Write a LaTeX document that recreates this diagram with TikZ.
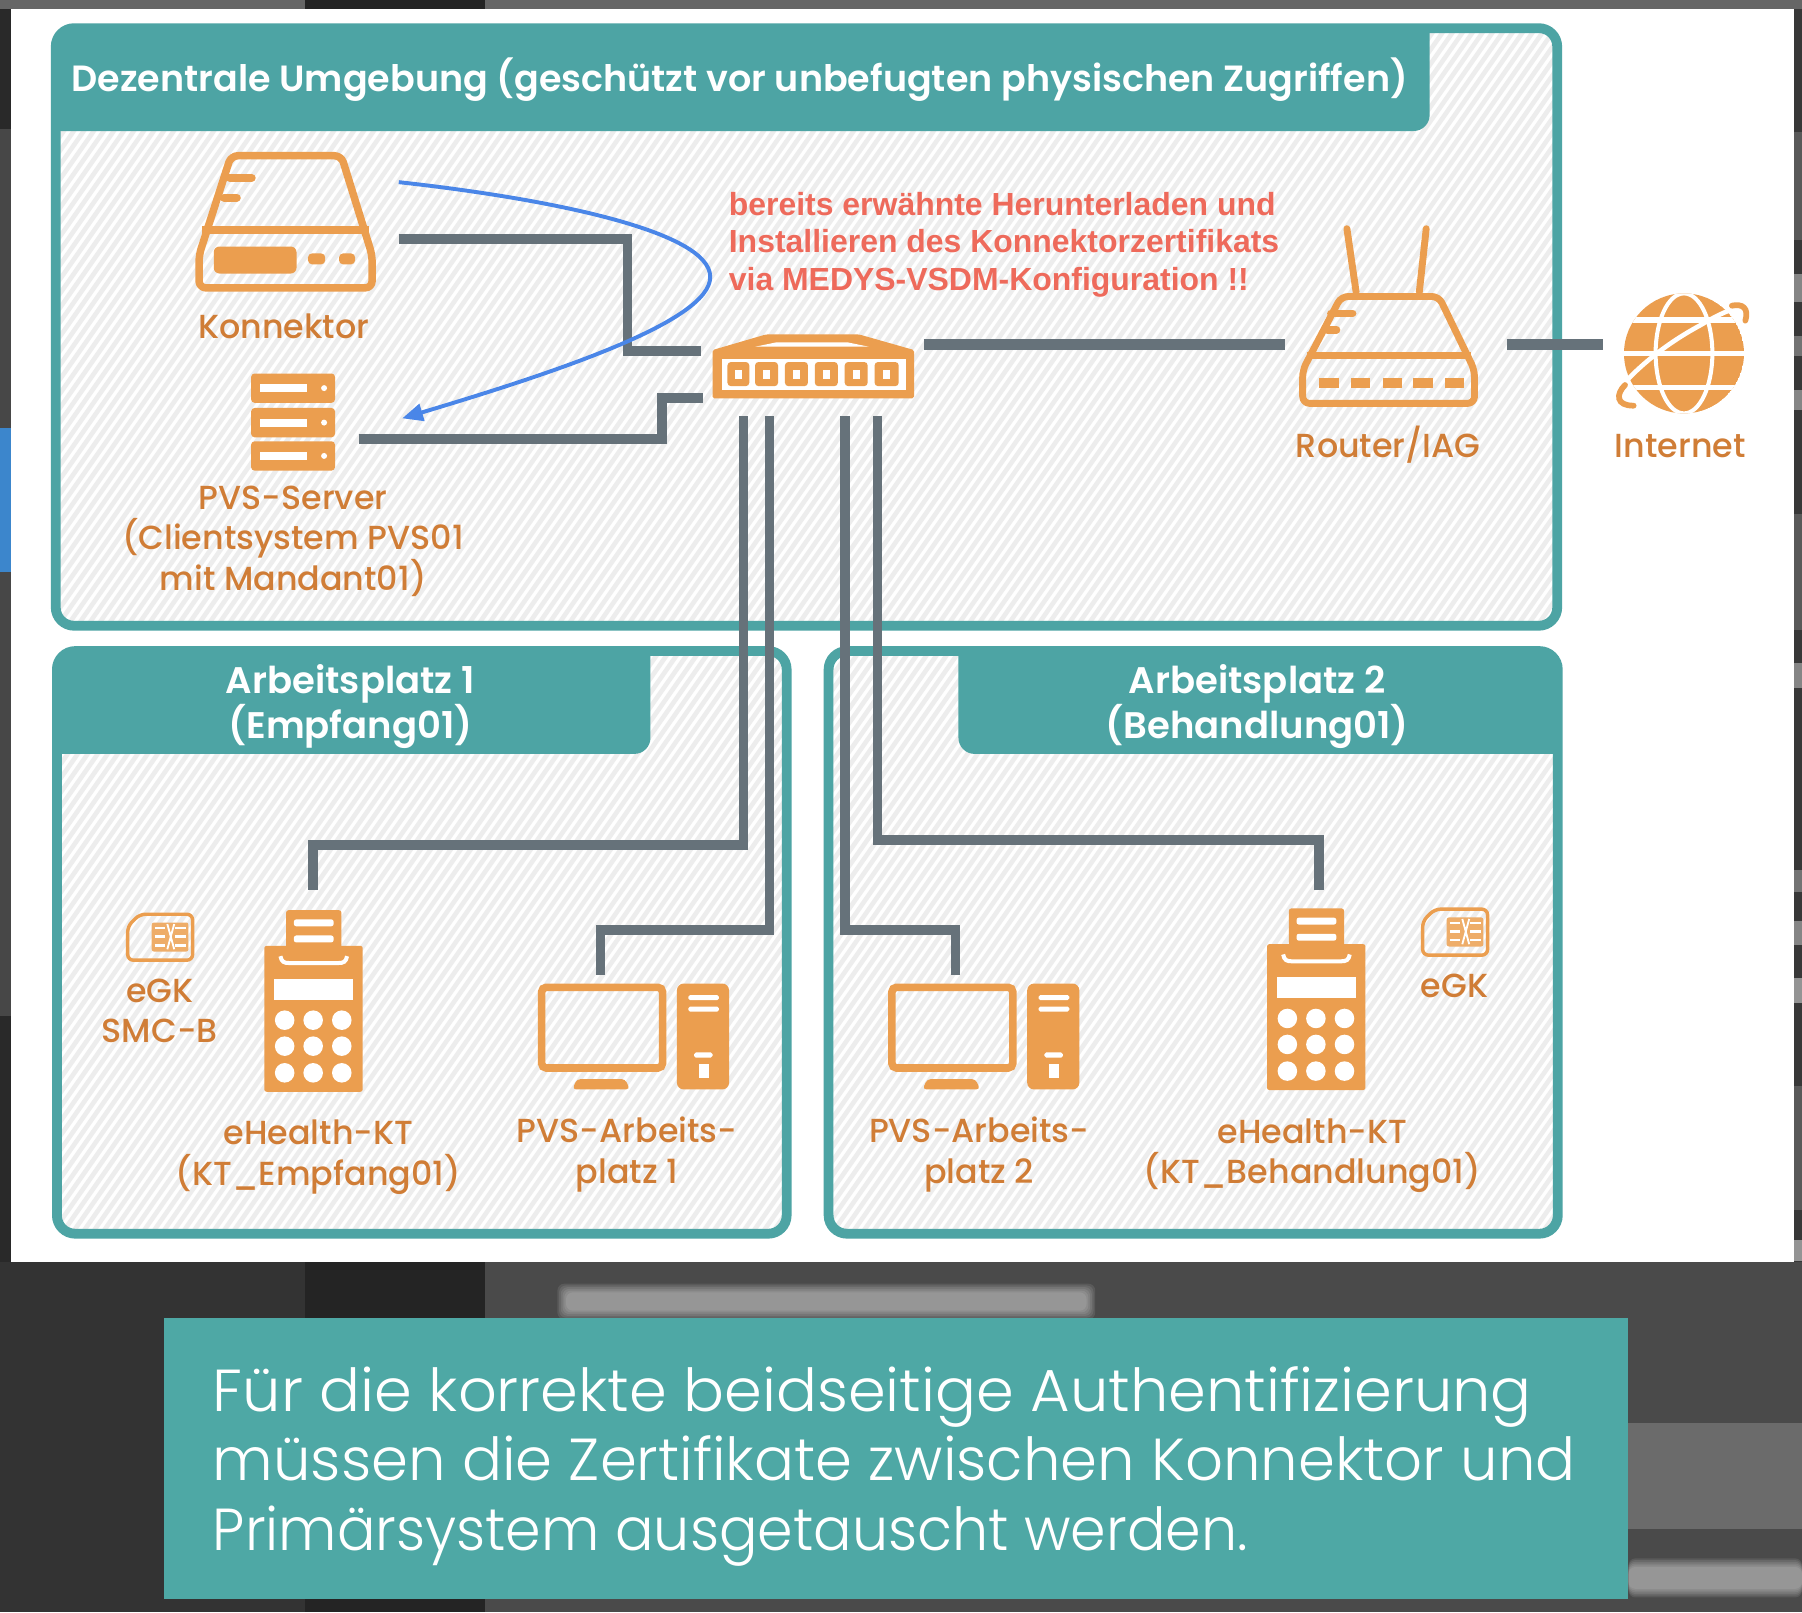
\documentclass[tikz,border=0pt]{standalone}
\usepackage{graphicx}
\usepackage{fontspec}
\newfontfamily\lblfont{Poppins Medium}
\newfontfamily\headfont{Poppins SemiBold}
\newfontfamily\capfont{Poppins Light}
\newfontfamily\redfont{Liberation Sans}[BoldFont={Liberation Sans Bold}]
\usetikzlibrary{arrows.meta}
\definecolor{tealc}{HTML}{4DA4A4}
\definecolor{capc}{HTML}{4EA8A5}
\definecolor{orng}{HTML}{EB9E4F}
\definecolor{lblc}{HTML}{D07D36}
\definecolor{wirec}{HTML}{66727A}
\definecolor{hatchc}{HTML}{EDEDED}
\definecolor{redc}{HTML}{EE6A5B}
\definecolor{bluec}{HTML}{4A86E8}
\definecolor{stripblue}{HTML}{3C86CC}
\tikzset{
  wire/.style={draw=wirec,line width=8.5pt,line join=miter},
  frameline/.style={draw=tealc,line width=8.5pt,rounded corners=16pt},
  lbl/.style={text=lblc,font=\lblfont\fontsize{29}{35}\selectfont,align=center,inner sep=0pt},
  head/.style={text=white,font=\headfont\fontsize{31.75}{38}\selectfont,align=center,inner sep=0pt},
  ico/.style={draw=orng,line width=6.5pt,line join=round},
  softbar/.style={fill=white,rounded corners=6pt,opacity=.09},
  terminal/.pic={
    \fill[orng,rounded corners=2pt] (19,-31) rectangle (67,2);
    \fill[white,rounded corners=2pt] (25.7,-23) rectangle (60.3,-17);
    \fill[white,rounded corners=2pt] (25.7,-9) rectangle (60.3,-3);
    \fill[orng,rounded corners=2pt] (0,0) rectangle (85.6,127);
    \draw[white,line width=3.5pt] (14,9) .. controls (15,14) and (17,15) .. (22,15) -- (64,15) .. controls (69,15) and (71,14) .. (72,9);
    \fill[white] (8.4,29) rectangle (77,47.3);
    \foreach \kx in {17.7,42.5,67.4} \foreach \ky in {64.7,87.3,110.5}
      \fill[white] (\kx,\ky) circle (8.5pt);
  },
  simcard/.pic={
    \draw[orng,line width=3pt,rounded corners=5pt] (1.5,12) -- (12,1.5) -- (58,1.5) -- (58,41.5) -- (1.5,41.5) -- cycle;
    \fill[orng!85,rounded corners=2pt] (22.4,8.7) rectangle (54.4,34);
    \foreach \ry in {13.5,21,28.5}{
      \draw[white,line width=2.2pt] (25,\ry) -- (34,\ry);
      \draw[white,line width=2.2pt] (43,\ry) -- (52,\ry);
    }
    \draw[white,line width=1.6pt] (36,10) -- (39,21) -- (36,32) (42,10) -- (39,21) -- (42,32);
  },
  pcset/.pic={
    \draw[orng,line width=6.6pt,rounded corners=4pt] (3.3,3.3) rectangle (108.5,73.5);
    \fill[orng,rounded corners=3pt] (30,92) -- (34,83.2) -- (76,83.2) -- (80,92) -- cycle;
    \fill[orng,rounded corners=6pt] (121,0) rectangle (166.4,92.2);
    \fill[white,rounded corners=1.5pt] (131,10) rectangle (157.6,14.5);
    \fill[white,rounded corners=1.5pt] (131,20) rectangle (157.6,24.5);
    \fill[white,rounded corners=1.5pt] (136,60) rectangle (152,64.5);
    \fill[white] (140,70) rectangle (148.7,81.8);
  },
}
\begin{document}
\begin{tikzpicture}[x=1pt,y=-1pt]
\useasboundingbox (0,0) rectangle (1568,1402.7);
% blurred backdrop of the screenshot
\fill[black!80] (0,0) rectangle (265,1402.7);
\fill[black!86] (265,0) rectangle (422,1402.7);
\fill[black!71] (422,0) rectangle (1568,1402.7);
\fill[black!60] (0,0) rectangle (265,8);
\fill[black!60] (422,0) rectangle (1568,8);
\fill[black!58] (1417,1238) rectangle (1568,1330);
% left edge
\fill[black!84] (0,8) rectangle (10,112);
\fill[black!72] (0,112) rectangle (10,372);
\fill[stripblue] (0,372) rectangle (10,498);
\fill[black!72] (0,498) rectangle (10,884);
\fill[black!84] (0,884) rectangle (10,1098);
% right edge
\fill[black!78] (1561,8) rectangle (1568,1098);
\foreach \ya/\yb/\gv in {115/209/65,238/263/48,292/310/55,339/357/48,447/548/65,577/599/48,757/776/55,801/822/48,851/873/42,945/1053/65,1079/1097/42}
  \fill[black!\gv] (1561,\ya) rectangle (1568,\yb);
% blurred text remnants
\foreach \bi in {0,1.5,...,7.5}{
  \fill[softbar] (485+\bi,1117+\bi) rectangle (953-\bi,1148-\bi);
  \fill[softbar] (1417,1356+\bi) rectangle (1568,1390-\bi);
}
% sheet
\fill[white] (10,8) rectangle (1561,1098);
% frames
\coordinate (fa1) at (48.5,24.5); \coordinate (fa2) at (1355,544.5);
\coordinate (fb1) at (49.5,566.5); \coordinate (fb2) at (684.5,1073.5);
\coordinate (fc1) at (721,566.5); \coordinate (fc2) at (1355.5,1073.5);
\begin{scope}
  \clip[rounded corners=16pt] (fa1) rectangle (fa2) (fb1) rectangle (fb2) (fc1) rectangle (fc2);
  \foreach \hx in {-800,-791.3,...,1400}
    \draw[hatchc,line width=4pt] (\hx,1100) -- (\hx+770,0);
\end{scope}
\begin{scope}
  \clip[rounded corners=16pt] (fa1) rectangle (fa2);
  \fill[tealc,rounded corners=14pt] (30,0) -- (1244,0) -- (1244,114) -- (30,114) -- cycle;
\end{scope}
\begin{scope}
  \clip[rounded corners=16pt] (fb1) rectangle (fb2);
  \fill[tealc,rounded corners=14pt] (30,540) -- (566,540) -- (566,656) -- (30,656) -- cycle;
\end{scope}
\begin{scope}
  \clip[rounded corners=16pt] (fc1) rectangle (fc2);
  \fill[tealc,rounded corners=14pt] (834,540) -- (1400,540) -- (1400,656) -- (834,656) -- cycle;
\end{scope}
\draw[frameline] (fa1) rectangle (fa2);
\draw[frameline] (fb1) rectangle (fb2);
\draw[frameline] (fc1) rectangle (fc2);
% named wire ends
\coordinate (kon) at (347,208); \coordinate (swa) at (610,305.5);
\coordinate (pvs) at (312,382); \coordinate (swb) at (612,346.5);
\coordinate (swr) at (804,300); \coordinate (rtl) at (1118,300);
\coordinate (rtr) at (1311,300); \coordinate (inet) at (1395,300);
\coordinate (d1) at (647,362); \coordinate (d2) at (669.5,362);
\coordinate (d3) at (735,362); \coordinate (d4) at (763.5,362);
\coordinate (kt1) at (272.5,774); \coordinate (pc1) at (522.5,848);
\coordinate (pc2) at (831.5,848); \coordinate (kt2) at (1148,774);
% connectors
\draw[wire] (kon) -- (546,208) -- (546,305.5) -- (swa);
\draw[wire] (pvs) -- (576,382) -- (576,346.5) -- (swb);
\draw[wire,line width=9.3pt] (swr) -- (rtl);
\draw[wire,line width=9.3pt] (rtr) -- (inet);
\draw[wire] (d1) -- (647,735.5) -- (272.5,735.5) -- (kt1);
\draw[wire] (d2) -- (669.5,809.5) -- (522.5,809.5) -- (pc1);
\draw[wire] (d3) -- (735,809) -- (831.5,809) -- (pc2);
\draw[wire] (d4) -- (763.5,731) -- (1148,731) -- (kt2);
% Konnektor icon
\draw[ico,rounded corners=6pt] (173.2,222) -- (201,135.5) -- (297,135.5) -- (323.8,222) -- (323.8,250.5) -- (173.2,250.5) -- cycle;
\draw[orng,line width=6.5pt] (176,200) -- (321,200);
\draw[orng,line width=7pt,line cap=round] (200,154.7) -- (219,154.7) (195,172) -- (206,172);
\fill[orng,rounded corners=5pt] (186,214.5) rectangle (258,238);
\fill[orng,rounded corners=3.5pt] (268,220.5) rectangle (283,230);
\fill[orng,rounded corners=3.5pt] (295,220.5) rectangle (309,230);
% PVS server icon
\foreach \sy in {325,355,384}{
  \fill[orng,rounded corners=3pt] (218.5,\sy) rectangle (291.5,\sy+25.5);
  \fill[white] (226,\sy+9.5) rectangle (267,\sy+16.5);
  \fill[white] (282,\sy+12.7) circle (2.6pt);
}
% switch icon
\fill[orng,rounded corners=1.5pt] (620,304.6) -- (666.5,291) -- (747.5,291) -- (795.4,304.6) -- (795.4,346.6) -- (620,346.6) -- cycle;
\fill[white] (657,301.7) -- (675,298) -- (738,298) -- (756,301.7) -- cycle;
\fill[white] (628,312) rectangle (788,339);
\foreach \px/\pw in {633/19,657/20,683/20,709/20,735/20,761/21}{
  \fill[orng,rounded corners=3pt] (\px,315) rectangle (\px+\pw,336);
  \fill[white] (\px+\pw/2-3,322) rectangle (\px+\pw/2+3,329.5);
}
% router icon
\draw[orng,line width=6pt,line cap=round] (1172,199) -- (1180,254) (1241,199) -- (1235,254);
\draw[ico,line width=6pt,rounded corners=6pt] (1133.5,322) -- (1167,258) -- (1252,258) -- (1283,322) -- (1283,351) -- (1133.5,351) -- cycle;
\draw[orng,line width=6pt] (1137,309.5) -- (1280,309.5);
\draw[orng,line width=6.5pt,line cap=round] (1158,272.6) -- (1177,272.6) (1155,287) -- (1163,287);
\foreach \rx in {1148,1175.5,1203,1229.5,1257}
  \fill[orng] (\rx,329) rectangle (\rx+17,337.5);
% globe icon
\begin{scope}
  \clip (1465.3,307.5) circle (52.2pt);
  \fill[orng] (1465.3,307.5) circle (52.2pt);
  \draw[white,line width=4.5pt] (1400,278.5) -- (1530,278.5) (1400,307.5) -- (1530,307.5) (1400,337) -- (1530,337);
  \draw[white,line width=3.5pt] (1465.3,307.5) ellipse (24.7pt and 52.2pt);
\end{scope}
\draw[white,line width=4pt] (1415.7,330.7) .. controls (1430,316) and (1450,299) .. (1479.5,283) .. controls (1488,278) and (1497,273) .. (1505.6,269.8);
\draw[orng,line width=5pt,line cap=round] (1507,266) .. controls (1516,264) and (1522,268) .. (1518.7,279);
\draw[orng,line width=5pt,line cap=round] (1414,335) .. controls (1406,343) and (1406,353) .. (1421.5,353);
% terminals, cards, PCs
\pic at (230,823) {terminal};
\pic at (1102.5,821.5) {terminal};
\pic at (109.6,794) {simcard};
\pic at (1236.4,789.6) {simcard};
\pic at (468,855.8) {pcset};
\pic at (772.8,855.8) {pcset};
% blue arrow
\coordinate (ba) at (347,158.5); \coordinate (bb) at (350,364);
\draw[bluec,line width=3.4pt,-{Triangle[length=18pt,width=15pt]}] (ba) .. controls (470,172) and (618,200) .. (618,241) .. controls (618,280) and (480,325) .. (bb);
% texts
\node[head,anchor=west] (thead) at (62,69) {\scalebox{1.0}[1]{Dezentrale Umgebung (geschützt vor unbefugten physischen Zugriffen)}};
\node[head,font=\headfont\fontsize{32.2}{38}\selectfont] (theadb) at (305,615) {Arbeitsplatz 1\\(Empfang01)};
\node[head,font=\headfont\fontsize{32.2}{38}\selectfont] (theadc) at (1094,615) {Arbeitsplatz 2\\(Behandlung01)};
\node[lbl] (tkon) at (247,284) {Konnektor};
\node[lbl] (tpvs) at (255,471) {PVS-Server\\(Clientsystem PVS01\\mit Mandant01)};
\node[lbl] (trt) at (1208,387) {Router/IAG};
\node[lbl] (tin) at (1462,388) {Internet};
\node[lbl] (tca) at (139,879.5) {eGK\\SMC-B};
\node[lbl] (tcb) at (1265.7,857.6) {eGK};
\node[lbl] (tkta) at (277,1007) {eHealth-KT\\(KT\_Empfang01)};
\node[lbl] (tpa) at (545.6,1004.5) {PVS-Arbeits-\\platz 1};
\node[lbl] (tpb) at (852,1004.5) {PVS-Arbeits-\\platz 2};
\node[lbl] (tktb) at (1142,1005.5) {eHealth-KT\\(KT\_Behandlung01)};
\node[text=redc,font=\redfont\bfseries\fontsize{27.8}{32.7}\selectfont,align=left,anchor=west,inner sep=0pt] (tred) at (634,213)
  {bereits erwähnte Herunterladen und\\Installieren des Konnektorzertifikats\\via MEDYS-VSDM-Konfiguration !!};
% caption
\fill[capc] (143,1147) rectangle (1417,1391.5);
\node[text=white,font=\capfont\fontsize{51.6}{60.5}\selectfont,align=left,anchor=west,inner sep=0pt] (tcap) at (185,1276)
  {\scalebox{1.023}[1]{Für die korrekte beidseitige Authentifizierung}\\müssen die Zertifikate zwischen Konnektor und\\\scalebox{0.9626}[1]{Primärsystem ausgetauscht werden.}};
\end{tikzpicture}
\end{document}
